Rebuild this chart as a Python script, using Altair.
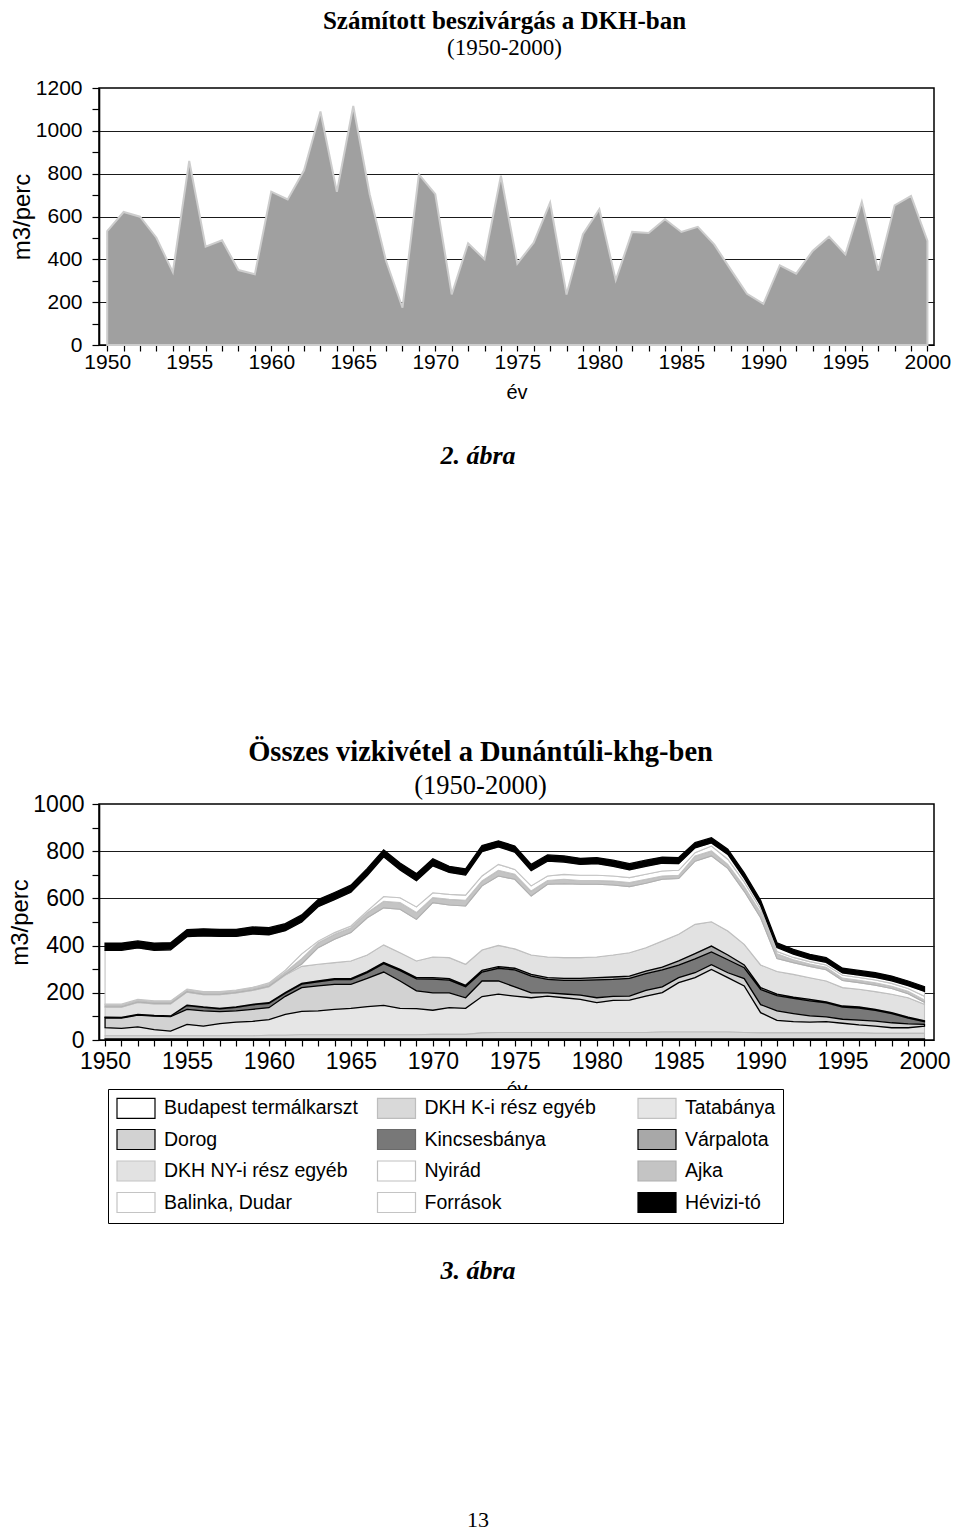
import altair as alt
import pandas as pd

SANS = "Liberation Sans"
SERIF = "Liberation Serif"

years = list(range(1950, 2001))

# --- 2. ábra: Számított beszivárgás (m3/perc)
beszivargas = [532, 621, 599, 501, 340, 860, 459, 489, 350, 330,
               716, 680, 816, 1090, 715, 1116, 704, 392, 174, 797,
               704, 236, 475, 400, 790, 380, 478, 665, 236, 517,
               634, 303, 528, 523, 587, 528, 552, 470, 353, 239,
               192, 372, 333, 439, 506, 423, 669, 348, 652, 696, 486]

# --- 3. ábra: cumulative tops of the stacked layers (m3/perc)
budapest_top = [5, 5, 5, 5, 5, 5, 5, 5, 5, 5,
                5, 5, 5, 5, 5, 5, 5, 5, 5, 5,
                5, 5, 5, 5, 5, 5, 5, 5, 5, 5,
                5, 5, 5, 5, 5, 5, 5, 5, 5, 5,
                5, 5, 5, 5, 5, 5, 5, 5, 5, 5, 5]
dkhk_top = [18, 18, 18, 18, 18, 18, 18, 18, 18, 18,
            20, 20, 22, 22, 22, 22, 22, 22, 22, 22,
            24, 24, 24, 30, 32, 32, 32, 32, 32, 32,
            32, 32, 32, 32, 34, 34, 34, 34, 34, 32,
            30, 30, 30, 30, 30, 30, 30, 28, 28, 28, 28]
tatabanya_top = [52, 49, 56, 44, 38, 66, 59, 69, 76, 79,
                 86, 109, 121, 123, 130, 134, 141, 147, 134, 133,
                 126, 137, 134, 184, 194, 186, 179, 186, 179, 172,
                 158, 168, 169, 186, 201, 243, 264, 299, 264, 229,
                 116, 83, 78, 76, 78, 71, 64, 59, 52, 52, 59]
dorog_top = [94, 93, 105, 101, 99, 130, 123, 120, 123, 130,
             137, 185, 222, 229, 236, 236, 261, 288, 250, 208,
             200, 200, 179, 250, 250, 225, 200, 200, 195, 190,
             179, 185, 186, 210, 225, 264, 285, 319, 285, 260,
             150, 123, 112, 102, 98, 88, 84, 80, 73, 68, 66]
kincses_top = [96, 95, 107, 103, 101, 146, 138, 132, 138, 149,
               155, 198, 237, 246, 256, 256, 285, 323, 294, 259,
               258, 254, 226, 288, 304, 297, 271, 257, 253, 253,
               255, 257, 261, 281, 297, 317, 344, 373, 340, 306,
               214, 188, 176, 166, 157, 139, 135, 126, 112, 93, 78]
varpalota_top = [97, 96, 108, 104, 102, 148, 140, 134, 140, 151,
                 158, 201, 240, 250, 260, 260, 290, 328, 299, 264,
                 264, 260, 232, 295, 311, 304, 278, 264, 261, 261,
                 264, 267, 271, 292, 309, 335, 366, 398, 360, 318,
                 222, 194, 182, 172, 162, 144, 140, 130, 116, 97, 81]
dkhny_top = [139, 139, 159, 153, 153, 203, 192, 192, 199, 210,
             226, 275, 312, 321, 328, 335, 360, 403, 370, 335,
             352, 349, 321, 381, 401, 386, 360, 352, 349, 349,
             352, 360, 370, 391, 419, 448, 490, 501, 462, 405,
             318, 290, 278, 264, 250, 222, 215, 205, 194, 179, 151]
nyirad_top = [141, 141, 161, 155, 155, 205, 194, 194, 201, 212,
              228, 278, 322, 391, 427, 455, 518, 560, 554, 511,
              582, 572, 568, 653, 695, 681, 610, 660, 662, 660,
              660, 657, 650, 664, 681, 684, 758, 780, 727, 630,
              518, 345, 328, 312, 298, 252, 243, 232, 218, 196, 160]
ajka_top = [148, 148, 168, 162, 162, 212, 201, 201, 208, 219,
            236, 288, 345, 412, 448, 476, 540, 588, 582, 540,
            603, 596, 592, 674, 719, 702, 631, 676, 681, 676,
            676, 674, 667, 681, 695, 698, 780, 801, 744, 650,
            540, 365, 340, 322, 308, 262, 253, 242, 228, 206, 170]
balinka_top = [152, 152, 172, 166, 166, 216, 205, 205, 212, 223,
               242, 296, 365, 419, 455, 483, 547, 608, 603, 564,
               624, 617, 614, 695, 744, 723, 653, 695, 702, 698,
               698, 695, 688, 702, 716, 719, 794, 822, 766, 670,
               555, 375, 350, 332, 318, 274, 265, 254, 240, 218, 185]
forrasok_top = [380, 380, 390, 380, 382, 438, 441, 439, 439, 449,
                446, 463, 500, 565, 595, 626, 697, 776, 720, 675,
                738, 710, 699, 798, 818, 796, 718, 758, 754, 744,
                747, 736, 721, 736, 749, 747, 814, 835, 786, 686,
                570, 392, 364, 343, 329, 284, 275, 265, 251, 230, 206]
osszes_top = [410, 410, 420, 410, 412, 468, 471, 469, 469, 479,
              476, 493, 530, 595, 625, 656, 727, 806, 750, 705,
              768, 736, 725, 824, 844, 822, 744, 784, 780, 770,
              773, 762, 747, 762, 775, 773, 836, 857, 808, 708,
              592, 412, 384, 363, 349, 304, 295, 285, 271, 250, 226]

# stacking order, bottom to top
stack_names = ["Budapest termálkarszt", "DKH K-i rész egyéb", "Tatabánya",
               "Dorog", "Kincsesbánya", "Várpalota",
               "DKH NY-i rész egyéb", "Nyirád", "Ajka",
               "Balinka, Dudar", "Források", "Hévizi-tó"]
stack_tops = [budapest_top, dkhk_top, tatabanya_top, dorog_top, kincses_top,
              varpalota_top, dkhny_top, nyirad_top, ajka_top, balinka_top,
              forrasok_top, osszes_top]
fill_of = {"Budapest termálkarszt": "#ffffff", "DKH K-i rész egyéb": "#d9d9d9",
           "Tatabánya": "#e6e6e6", "Dorog": "#d2d2d2", "Kincsesbánya": "#787878",
           "Várpalota": "#a8a8a8", "DKH NY-i rész egyéb": "#e2e2e2", "Nyirád": "#ffffff",
           "Ajka": "#c4c4c4", "Balinka, Dudar": "#ffffff", "Források": "#ffffff",
           "Hévizi-tó": "#000000"}
stroke_of = {"Budapest termálkarszt": "#000000", "DKH K-i rész egyéb": "#bdbdbd",
             "Tatabánya": "#c2c2c2", "Dorog": "#000000", "Kincsesbánya": "#6a6a6a",
             "Várpalota": "#000000", "DKH NY-i rész egyéb": "#c4c4c4", "Nyirád": "#bfbfbf",
             "Ajka": "#b0b0b0", "Balinka, Dudar": "#c4c4c4", "Források": "#c4c4c4",
             "Hévizi-tó": "#000000"}
# legend entries (filled column by column, 3 columns x 4 rows)
legend_order = ["Budapest termálkarszt", "Dorog", "DKH NY-i rész egyéb", "Balinka, Dudar",
                "DKH K-i rész egyéb", "Kincsesbánya", "Nyirád", "Források",
                "Tatabánya", "Várpalota", "Ajka", "Hévizi-tó"]
draw_order = ["Tatabánya", "DKH K-i rész egyéb", "Kincsesbánya", "DKH NY-i rész egyéb",
              "Nyirád", "Ajka", "Balinka, Dudar", "Források", "Budapest termálkarszt",
              "Dorog", "Várpalota", "Hévizi-tó"]

rows = []
for i, name in enumerate(stack_names):
    hi = stack_tops[i]
    lo = stack_tops[i - 1] if i > 0 else [0] * len(years)
    for y, a, b in zip(years, lo, hi):
        rows.append({"ev": y, "sorozat": name, "also": a, "felso": max(a, b)})
df_bottom = pd.DataFrame(rows)

df_top = pd.DataFrame({"ev": years, "ertek": beszivargas})

PLOT_W = 835


def x_axis(fs, label_pad, title_pad):
    return alt.Axis(values=years,
                    labelExpr="datum.value % 5 === 0 ? datum.label : ''",
                    format="d", grid=False, tickSize=6, tickColor="black", tickWidth=1.2,
                    domainColor="black", domainWidth=1.2,
                    labelFont=SANS, labelFontSize=fs, labelColor="black", labelPadding=label_pad,
                    labelOverlap=False, labelFlush=False,
                    title="év", titleFont=SANS, titleFontSize=20, titleFontWeight="normal",
                    titleColor="black", titlePadding=title_pad)


def y_axis(top, fs, label_pad, title_pad):
    return alt.Axis(values=list(range(0, top + 1, 100)),
                    labelExpr="datum.value % 200 === 0 ? datum.label : ''",
                    format="d", grid=True, gridColor="#1a1a1a", gridWidth=1,
                    gridOpacity={"condition": {"test": f"datum.value % 200 === 0 && datum.value > 0 && datum.value < {top}",
                                               "value": 1}, "value": 0},
                    tickSize=7, tickColor="black", tickWidth=1.2,
                    domainColor="black", domainWidth=1.6,
                    labelFont=SANS, labelFontSize=fs, labelColor="black", labelPadding=label_pad,
                    labelOverlap=False,
                    title="m3/perc", titleFont=SANS, titleFontSize=24, titleFontWeight="normal",
                    titleColor="black", titlePadding=title_pad)


# ---------- top chart
top_chart = alt.Chart(df_top).mark_area(
    fill="#a0a0a0", stroke="#cdcdcd", strokeWidth=2
).encode(
    x=alt.X("ev:Q", scale=alt.Scale(domain=[1949.5, 2000.4], nice=False, zero=False),
            axis=x_axis(21, 0, 10)),
    y=alt.Y("ertek:Q", scale=alt.Scale(domain=[0, 1200], nice=False),
            axis=y_axis(1200, 21, 10, 1)),
).properties(
    width=PLOT_W, height=257,
    title=alt.TitleParams(text="Számított beszivárgás a DKH-ban", subtitle="(1950-2000)",
                          font=SERIF, fontSize=25, fontWeight="bold", color="black",
                          subtitleFont=SERIF, subtitleFontSize=23, subtitleColor="black",
                          subtitlePadding=3, offset=17, anchor="middle", dx=-12),
)

# ---------- bottom chart
fill_scale = alt.Scale(domain=legend_order, range=[fill_of[n] for n in legend_order])
stroke_scale = alt.Scale(domain=legend_order, range=[stroke_of[n] for n in legend_order])
legend = alt.Legend(title=None, orient="none", legendX=9, legendY=285, columns=3,
                    symbolType="M-1,-1H2.8V1H-1Z", symbolSize=400, symbolStrokeWidth=1.2,
                    labelFont=SANS, labelFontSize=19.5, labelColor="black", labelOffset=26,
                    labelLimit=400, rowPadding=5.5, columnPadding=15.5, padding=8,
                    strokeColor="black", fillColor="white", gridAlign="all")

x_bottom = alt.X("ev:Q", scale=alt.Scale(domain=[1949.63, 2000.58], nice=False, zero=False),
                 axis=x_axis(23, 4, 6))
y_bottom = alt.Y("felso:Q", scale=alt.Scale(domain=[0, 1000], nice=False),
                 axis=y_axis(1000, 23, 8, 0))

layers = []
for name in draw_order:
    sw = 1.3 if stroke_of[name] == "#000000" else 1.1
    layers.append(
        alt.Chart(df_bottom).transform_filter(alt.datum.sorozat == name).mark_area(strokeWidth=sw).encode(
            x=x_bottom, y=y_bottom, y2="also:Q",
            fill=alt.Fill("sorozat:N", scale=fill_scale, legend=legend),
            stroke=alt.Stroke("sorozat:N", scale=stroke_scale, legend=legend),
        )
    )

bottom_chart = alt.layer(*layers).properties(
    width=PLOT_W, height=236,
    title=alt.TitleParams(text="Összes vizkivétel a Dunántúli-khg-ben", subtitle="(1950-2000)",
                          font=SERIF, fontSize=28.5, fontWeight="bold", color="black",
                          subtitleFont=SERIF, subtitleFontSize=26.5, subtitleColor="black",
                          subtitlePadding=6, offset=-6, frame="group", anchor="middle", dx=-36),
)


# ---------- captions
def caption(text, height, ypos, size, bold=True, italic=True):
    return alt.Chart(pd.DataFrame({"t": [text]})).mark_text(
        font=SERIF, fontSize=size, fontWeight="bold" if bold else "normal",
        fontStyle="italic" if italic else "normal", baseline="middle", color="black"
    ).encode(text="t:N", y=alt.value(ypos)).properties(
        width=758, height=height, view=alt.ViewBackground(stroke="transparent"))


cap2 = caption("2. ábra", 332, 52, 26)
cap3 = caption("3. ábra", 100, 45, 26)
page = caption("13", 200, 192, 22, bold=False, italic=False)

chart = alt.vconcat(top_chart, cap2, bottom_chart, cap3, page, spacing=0).resolve_scale(
    fill="independent", stroke="independent"
).properties(padding=0).configure_view(stroke="black", strokeWidth=1.5)

chart.save("out.html", embed_options={"renderer": "svg", "actions": False})
